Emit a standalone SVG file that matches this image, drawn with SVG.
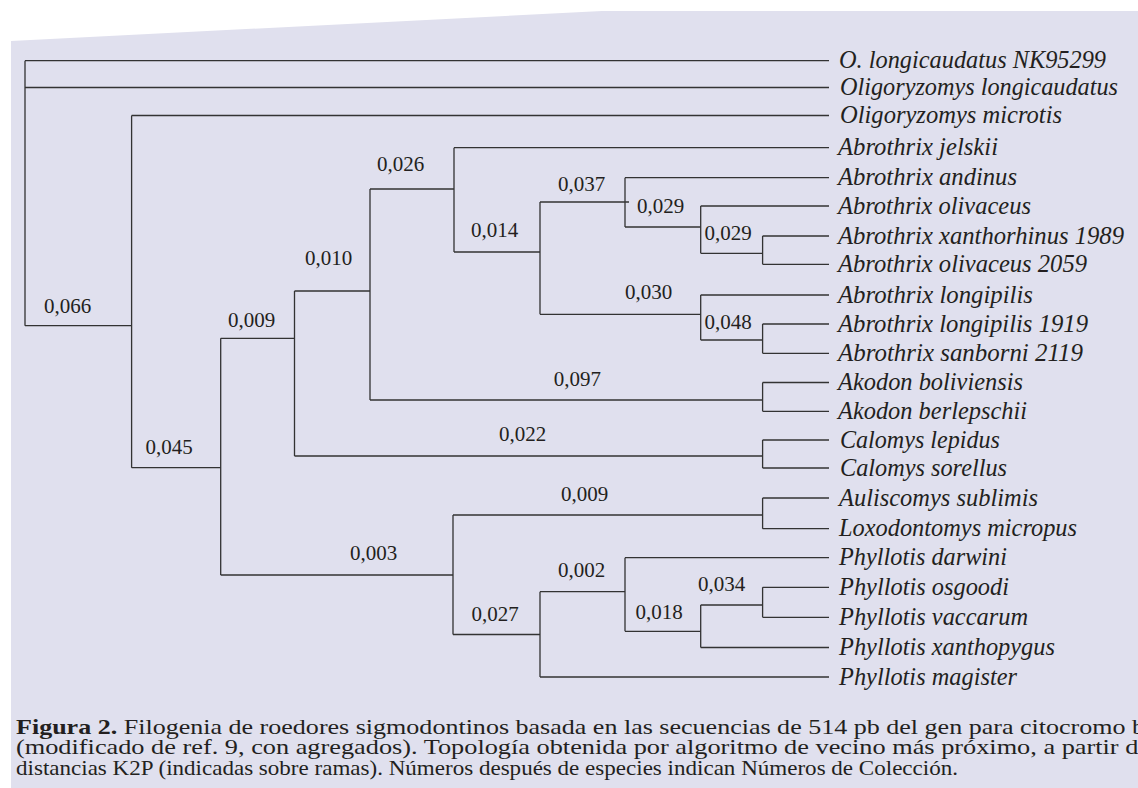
<svg xmlns="http://www.w3.org/2000/svg" width="1138" height="788" viewBox="0 0 1138 788">
<style>
.br{fill:none;stroke:#333333;stroke-width:1.3}
.lf{font-family:"Liberation Serif","Times New Roman",serif;font-style:italic;font-size:25.5px;fill:#231f20}
.bl{font-family:"Liberation Serif","Times New Roman",serif;font-size:21px;fill:#231f20}
.cap{font-family:"Liberation Serif","Times New Roman",serif;font-size:21px;fill:#231f20}
</style>
<rect x="0" y="0" width="1138" height="788" fill="#ffffff"/>
<polygon points="11,41 602,11 1138,11 1138,788 11,788" fill="#e0e0ee"/>
<g id="connectors" class="br">
<path d="M25,60.7V325.7 M25,60.7H829 M25,87.5H829 M25,325.7H131.6"/>
<path d="M131.6,115.5V467.7 M131.6,115.5H829 M131.6,467.7H220.7"/>
<path d="M220.7,338.3V575 M220.7,338.3H294.5 M220.7,575H453"/>
<path d="M294.5,291V456 M294.5,291H370 M294.5,456H762.6"/>
<path d="M370,189V400 M370,189H454 M370,400H762.6"/>
<path d="M454,147.7V252 M454,147.7H829 M454,252H540"/>
<path d="M540,202V314.3 M540,202H629 M540,314.3H700.7"/>
<path d="M625,177.7V227 M625,177.7H829 M625,227H700.7"/>
<path d="M700.7,206V253.3 M700.7,206H829 M700.7,253.3H762.6"/>
<path d="M762.6,236V264.3 M762.6,236H829 M762.6,264.3H829"/>
<path d="M700.7,295V340 M700.7,295H829 M700.7,340H762.6"/>
<path d="M762.6,324V353.3 M762.6,324H829 M762.6,353.3H829"/>
<path d="M762.6,382.5V411.3 M762.6,382.5H829 M762.6,411.3H829"/>
<path d="M762.6,440V468 M762.6,440H829 M762.6,468H829"/>
<path d="M453,515V634.5 M453,515H762.6 M453,634.5H540"/>
<path d="M762.6,498V528.7 M762.6,498H829 M762.6,528.7H829"/>
<path d="M540,591.7V677 M540,591.7H625 M540,677H829"/>
<path d="M625,557.7V631.3 M625,557.7H829 M625,631.3H700.7"/>
<path d="M700.7,605V647.5 M700.7,605H762.6 M700.7,647.5H829"/>
<path d="M762.6,587.3V617.3 M762.6,587.3H829 M762.6,617.3H829"/>
</g>
<g id="branch-labels" class="bl">
<text x="44" y="313">0,066</text>
<text x="145.5" y="454">0,045</text>
<text x="228" y="326.7">0,009</text>
<text x="305" y="265">0,010</text>
<text x="377" y="171">0,026</text>
<text x="471" y="236.7">0,014</text>
<text x="558" y="191">0,037</text>
<text x="637" y="213">0,029</text>
<text x="704.5" y="240">0,029</text>
<text x="625" y="299">0,030</text>
<text x="704.5" y="329">0,048</text>
<text x="553.7" y="385.7">0,097</text>
<text x="499" y="440.7">0,022</text>
<text x="561" y="501">0,009</text>
<text x="350" y="560">0,003</text>
<text x="471.6" y="620.5">0,027</text>
<text x="558" y="576.7">0,002</text>
<text x="698" y="590.7">0,034</text>
<text x="635.6" y="619">0,018</text>
</g>
<g id="leaf-1" class="lf"><text x="839" y="68" textLength="267" lengthAdjust="spacingAndGlyphs">O. longicaudatus NK95299</text></g>
<g id="leaf-2" class="lf"><text x="840" y="95" textLength="278" lengthAdjust="spacingAndGlyphs">Oligoryzomys longicaudatus</text></g>
<g id="leaf-3" class="lf"><text x="840" y="123" textLength="222" lengthAdjust="spacingAndGlyphs">Oligoryzomys microtis</text></g>
<g id="leaf-4" class="lf"><text x="838" y="155.2" textLength="160" lengthAdjust="spacingAndGlyphs">Abrothrix jelskii</text></g>
<g id="leaf-5" class="lf"><text x="838" y="185.2" textLength="179" lengthAdjust="spacingAndGlyphs">Abrothrix andinus</text></g>
<g id="leaf-6" class="lf"><text x="838" y="213.5" textLength="193" lengthAdjust="spacingAndGlyphs">Abrothrix olivaceus</text></g>
<g id="leaf-7" class="lf"><text x="838" y="243.5" textLength="286" lengthAdjust="spacingAndGlyphs">Abrothrix xanthorhinus 1989</text></g>
<g id="leaf-8" class="lf"><text x="838" y="271.8" textLength="249" lengthAdjust="spacingAndGlyphs">Abrothrix olivaceus 2059</text></g>
<g id="leaf-9" class="lf"><text x="838" y="302.5" textLength="195" lengthAdjust="spacingAndGlyphs">Abrothrix longipilis</text></g>
<g id="leaf-10" class="lf"><text x="838" y="331.5" textLength="250" lengthAdjust="spacingAndGlyphs">Abrothrix longipilis 1919</text></g>
<g id="leaf-11" class="lf"><text x="838" y="360.8" textLength="245" lengthAdjust="spacingAndGlyphs">Abrothrix sanborni 2119</text></g>
<g id="leaf-12" class="lf"><text x="838" y="390" textLength="185" lengthAdjust="spacingAndGlyphs">Akodon boliviensis</text></g>
<g id="leaf-13" class="lf"><text x="838" y="418.8" textLength="189" lengthAdjust="spacingAndGlyphs">Akodon berlepschii</text></g>
<g id="leaf-14" class="lf"><text x="840" y="447.5" textLength="160" lengthAdjust="spacingAndGlyphs">Calomys lepidus</text></g>
<g id="leaf-15" class="lf"><text x="840" y="475.5" textLength="167" lengthAdjust="spacingAndGlyphs">Calomys sorellus</text></g>
<g id="leaf-16" class="lf"><text x="839" y="505.5" textLength="199" lengthAdjust="spacingAndGlyphs">Auliscomys sublimis</text></g>
<g id="leaf-17" class="lf"><text x="839" y="536.2" textLength="238" lengthAdjust="spacingAndGlyphs">Loxodontomys micropus</text></g>
<g id="leaf-18" class="lf"><text x="839" y="565.2" textLength="168" lengthAdjust="spacingAndGlyphs">Phyllotis darwini</text></g>
<g id="leaf-19" class="lf"><text x="839" y="594.8" textLength="170" lengthAdjust="spacingAndGlyphs">Phyllotis osgoodi</text></g>
<g id="leaf-20" class="lf"><text x="839" y="624.8" textLength="189" lengthAdjust="spacingAndGlyphs">Phyllotis vaccarum</text></g>
<g id="leaf-21" class="lf"><text x="839" y="655" textLength="216" lengthAdjust="spacingAndGlyphs">Phyllotis xanthopygus</text></g>
<g id="leaf-22" class="lf"><text x="839" y="684.5" textLength="178" lengthAdjust="spacingAndGlyphs">Phyllotis magister</text></g>
<g id="caption" class="cap">
<text x="16" y="733.5" textLength="1129" lengthAdjust="spacingAndGlyphs"><tspan font-weight="bold">Figura 2.</tspan> Filogenia de roedores sigmodontinos basada en las secuencias de 514 pb del gen para citocromo b</text>
<text x="16" y="754" textLength="1134" lengthAdjust="spacingAndGlyphs">(modificado de ref. 9, con agregados). Topología obtenida por algoritmo de vecino más próximo, a partir de</text>
<text x="16" y="774.5" textLength="942" lengthAdjust="spacingAndGlyphs">distancias K2P (indicadas sobre ramas). Números después de especies indican Números de Colección.</text>
</g>
</svg>
